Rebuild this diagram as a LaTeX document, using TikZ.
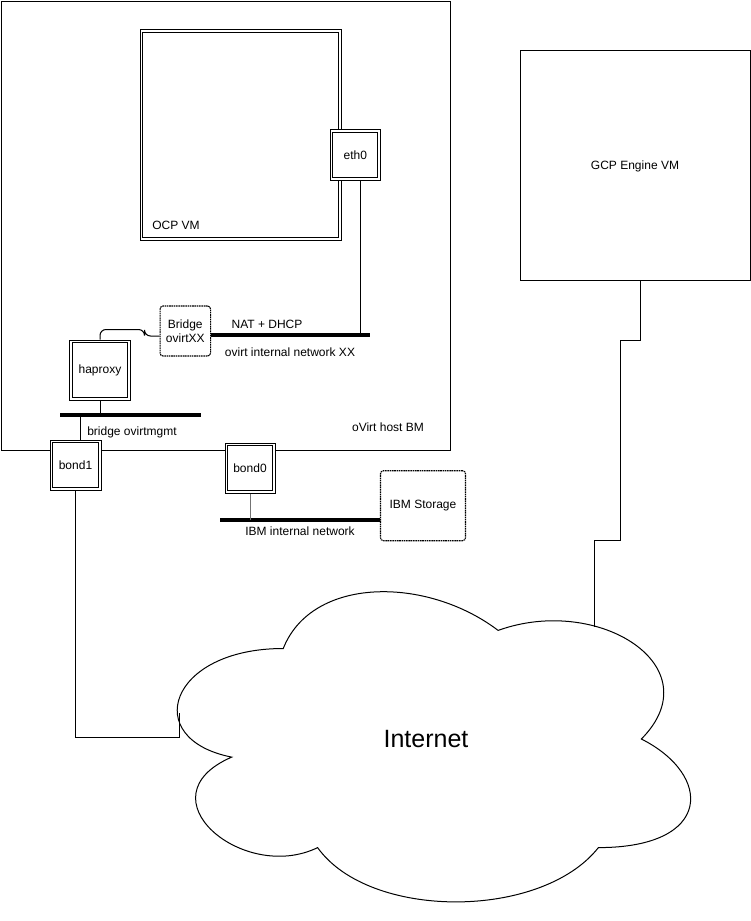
\documentclass[tikz,border=0pt]{standalone}
\usepackage{fontspec}
\setmainfont{Liberation Sans}

\begin{document}
\begin{tikzpicture}[
		x=1pt, y=-1pt,
		every node/.style={font=\fontsize{12}{14.5}\selectfont, inner sep=0pt},
		box/.style={draw, fill=white, line width=1pt},
		dbox/.style={box, path picture={
			\draw[line width=1pt] ([shift={(2.6pt,2.6pt)}]path picture bounding box.south west)
				rectangle ([shift={(-2.6pt,-2.6pt)}]path picture bounding box.north east);}},
		dotbox/.style={draw, fill=white, line width=1.1pt, dash pattern=on 1.6pt off 0.7pt, rounded corners=3pt, align=center},
		link/.style={line width=1pt},
		bus/.style={line width=4pt}
	]
  \useasboundingbox (0,0) rectangle (751,921);
  % host and VMs
  \node (host) [box, minimum width=449pt, minimum height=449pt] at (225.5,225.5) {};
  \node (host_label) at (388,427) {oVirt host BM};
  \node (ocp) [dbox, minimum width=201pt, minimum height=211pt] at (240.5,135) {};
  \node (ocp_label) at (176,225) {OCP VM};
  \node (eth0) [dbox, minimum size=50.5pt] at (355.3,155) {eth0};
  \node (gcp) [box, minimum width=230pt, minimum height=230pt] at (635,165) {};
  \node (gcp_label) at (635,166) {GCP Engine VM};
  % bridges
  \node (bridge) [dotbox, minimum width=50.5pt, minimum height=50pt] at (185.3,331) {Bridge\\ovirtXX};
  \node (haproxy) [dbox, minimum width=61pt, minimum height=60pt] at (100,370) {haproxy};
  \node (bond1) [dbox, minimum width=51pt, minimum height=50pt] at (75.5,465) {bond1};
  \node (bond0) [dbox, minimum size=50pt] at (250,468) {bond0};
  \node (ibm) [dotbox, minimum width=85pt, minimum height=70pt] at (423,505.7) {IBM Storage};
  % networks
  \coordinate (ovirtnet_e) at (370,335);
  \coordinate (mgmt_w) at (60,415);
  \coordinate (mgmt_e) at (201,415);
  \coordinate (ibmnet_w) at (220,520);
  \draw[bus] (bridge.east |- ovirtnet_e) -- (ovirtnet_e);
  \draw[bus] (mgmt_w) -- (mgmt_e);
  \draw[bus] (ibmnet_w) -- (ibm.west |- ibmnet_w);
  \node (nat_label) at (267,324) {NAT + DHCP};
  \node (ovirtnet_label) at (290,352) {ovirt internal network XX};
  \node (mgmt_label) at (132,432) {bridge ovirtmgmt};
  \node (ibmnet_label) at (300,531) {IBM internal network};
  \draw[link] ([xshift=4.7pt]eth0.south) -- ([xshift=4.7pt]eth0.south |- ovirtnet_e);
  \draw[link, rounded corners=6pt] ([yshift=-5pt]bridge.west) -- ++(-15,0) |- ([yshift=10pt]haproxy.north) -- (haproxy.north);
  \draw[link] (haproxy.south) -- (haproxy.south |- mgmt_w);
  \draw[link] ([xshift=4.5pt]bond1.north) -- ([xshift=4.5pt]bond1.north |- mgmt_w);
  \draw[link, black!55] (bond0.south) -- (bond0.south |- ibmnet_w);
  % internet cloud
  \begin{scope}[shift={(140,558)}, x=573pt, y=-362pt]
    \draw[link] (0.25,0.25) .. controls (0.05,0.25) and (0,0.5) .. (0.16,0.55)
      .. controls (0,0.66) and (0.18,0.9) .. (0.31,0.8)
      .. controls (0.4,1) and (0.7,1) .. (0.8,0.8)
      .. controls (1,0.8) and (1,0.6) .. (0.875,0.5)
      .. controls (1,0.3) and (0.8,0.1) .. (0.625,0.2)
      .. controls (0.5,0.05) and (0.3,0.05) .. cycle;
  \end{scope}
  \node (inet) [font=\fontsize{25}{30}\selectfont] at (426,739) {Internet};
  \coordinate (inet_w) at (179,713);
  \coordinate (inet_n) at (594,627);
  \draw[link] (bond1.south) |- (179,737) -- (inet_w);
  \draw[link] ([xshift=5pt]gcp.south) |- (620,340) |- (594,540) -- (inet_n);
\end{tikzpicture}
\end{document}
